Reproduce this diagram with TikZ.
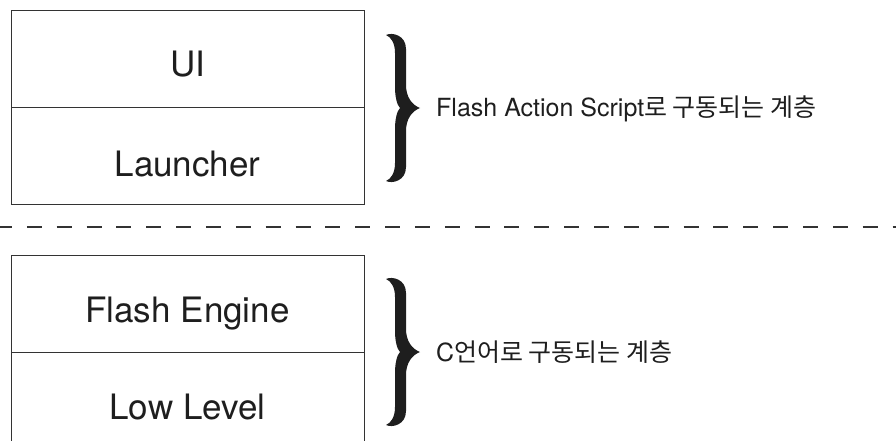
\documentclass[tikz,border=0pt]{standalone}
\usepackage{fontspec}
\setmainfont{TeX Gyre Heros}
\newfontfamily\kr[Scale=1.0]{Noto Sans CJK KR}
\definecolor{ink}{HTML}{1E1E1E}
\definecolor{rulec}{HTML}{333333}
\begin{document}
\begin{tikzpicture}[x=1pt,y=-1pt,
  layer/.style={draw=rulec, line width=1.4pt, minimum width=353pt, minimum height=97pt, inner sep=0pt, anchor=north west},
  boxlabel/.style={font=\fontsize{35}{40}\selectfont, text=ink, anchor=base},
  sidelabel/.style={font=\fontsize{25}{30}\selectfont, text=ink, anchor=base west, inner sep=0pt},
  curlybrace/.pic={
    \fill[ink] (0,0) .. controls (6,-3) and (20,0) .. (20,14) -- (20,50)
      .. controls (20,62) and (26,70) .. (34,73)
      .. controls (26,76) and (20,84) .. (20,96) -- (20,132)
      .. controls (20,146) and (6,149) .. (0,146)
      .. controls (5,144) and (9,138) .. (9,128) -- (9,94)
      .. controls (9,84) and (11,76) .. (14,73)
      .. controls (11,70) and (9,62) .. (9,52) -- (9,18)
      .. controls (9,8) and (5,2) .. (0,0) -- cycle;
  }]
\clip (0,0) rectangle (896,441);
% upper stack
\node[layer] (ui) at (11,10) {};
\node[layer] (launcher) at (11,107) {};
\node[boxlabel] (uitext) at (187.5,77) {UI};
\node[boxlabel] (launchertext) at (187.5,176.5) {Launcher};
\pic (bracetop) at (386,35) {curlybrace};
\node[sidelabel] (astext) at (436,117) {Flash Action Script{\kr 로 구동되는 계층}};
% separator
\coordinate (dl) at (-3,227);
\coordinate (dr) at (900,227);
\draw[rulec, line width=2pt, dash pattern=on 15pt off 14.85pt] (dl) -- (dr);
% lower stack
\node[layer] (engine) at (11,255) {};
\node[layer] (low) at (11,352) {};
\node[boxlabel] (enginetext) at (187.5,322) {Flash Engine};
\node[boxlabel] (lowtext) at (187.5,419) {Low Level};
\pic (bracebottom) at (386,279) {curlybrace};
\node[sidelabel] (ctext) at (436,361) {C{\kr 언어로 구동되는 계층}};
\end{tikzpicture}
\end{document}
